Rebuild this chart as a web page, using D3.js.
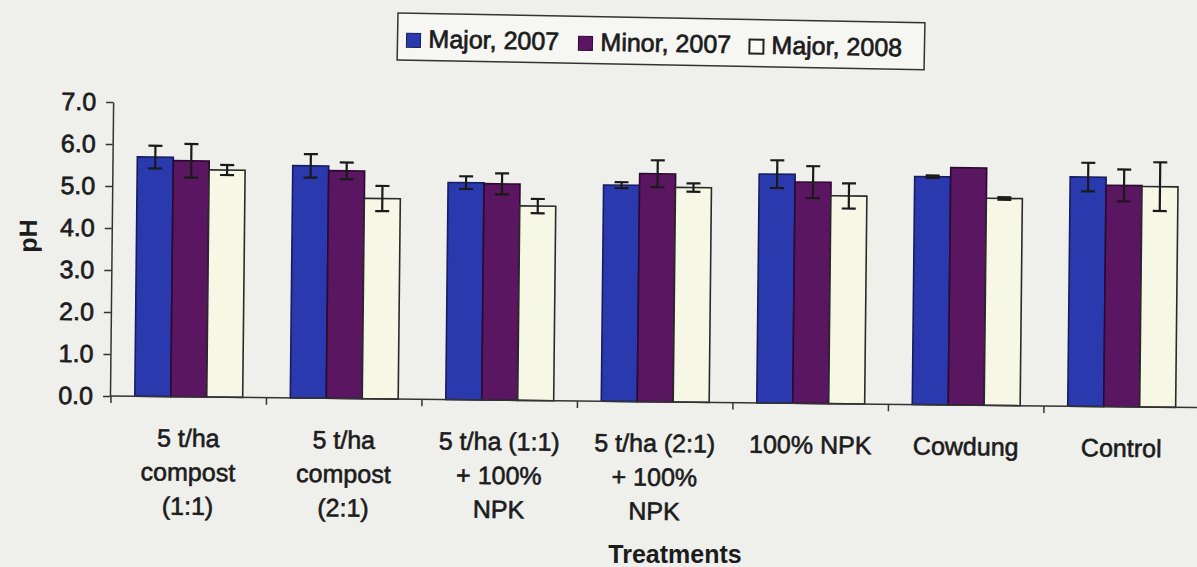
<!DOCTYPE html>
<html><head><meta charset="utf-8">
<script src="https://cdn.jsdelivr.net/npm/d3@7"></script>
<style>
html,body{margin:0;padding:0;background:#efefec;}
svg{display:block;}
text{font-family:"Liberation Sans",Arial,Helvetica,sans-serif;}
</style></head><body>
<svg id="c" width="1197" height="567"></svg>
<script>
const categories = ["5 t/ha\ncompost\n(1:1)", "5 t/ha\ncompost\n(2:1)", "5 t/ha (1:1)\n+ 100%\nNPK", "5 t/ha (2:1)\n+ 100%\nNPK", "100% NPK", "Cowdung", "Control"];
const seriesNames = ["Major, 2007", "Minor, 2007", "Major, 2008"];
const major2007 = [5.70, 5.53, 5.17, 5.15, 5.45, 5.43, 5.46];
const major2007Err = [0.27, 0.28, 0.15, 0.07, 0.33, 0.03, 0.34];
const minor2007 = [5.62, 5.42, 5.15, 5.43, 5.27, 5.65, 5.27];
const minor2007Err = [0.40, 0.20, 0.25, 0.32, 0.38, 0.00, 0.38];
const major2008 = [5.41, 4.77, 4.63, 5.11, 4.95, 4.93, 5.25];
const major2008Err = [0.12, 0.30, 0.17, 0.10, 0.30, 0.03, 0.58];
const yTicks = [0, 1, 2, 3, 4, 5, 6, 7];
const colors = ["#2a3aae", "#5a1660", "#f7f7e6"];
const strokes = ["#161c5e", "#2c0a30", "#2a2a2a"];

const values = [major2007, minor2007, major2008];
const errs = [major2007Err, minor2007Err, major2008Err];

const svg = d3.select("#c");
const g = svg.append("g").attr("transform", "rotate(0.61,110,396)");

const y = d3.scaleLinear().domain([0, 7]).range([396, 102]);
const x = d3.scaleBand().domain(categories).range([111, 1199.5]).padding(0);
const xs = d3.scaleBand().domain(seriesNames).range([23.8, x.bandwidth() - 23.8]).padding(0);

// bars
seriesNames.forEach((s, si) => {
  g.append("g").selectAll("rect").data(categories).join("rect")
    .attr("x", c => x(c) + xs(s))
    .attr("y", (c, i) => y(values[si][i]))
    .attr("width", xs.bandwidth())
    .attr("height", (c, i) => y(0) - y(values[si][i]))
    .attr("fill", colors[si])
    .attr("stroke", strokes[si])
    .attr("stroke-width", 1.6);
});
// error bars
seriesNames.forEach((s, si) => {
  const eg = g.append("g").attr("stroke", "#1a1a1a").attr("stroke-width", 2.2);
  categories.forEach((c, i) => {
    const e = errs[si][i];
    if (e <= 0) return;
    const cx = x(c) + xs(s) + xs.bandwidth() / 2;
    const v = values[si][i];
    eg.append("line").attr("x1", cx).attr("x2", cx).attr("y1", y(v + e)).attr("y2", y(v - e));
    eg.append("line").attr("x1", cx - 7).attr("x2", cx + 7).attr("y1", y(v + e)).attr("y2", y(v + e));
    eg.append("line").attr("x1", cx - 7).attr("x2", cx + 7).attr("y1", y(v - e)).attr("y2", y(v - e));
  });
});

// y axis
const ya = g.append("g").attr("transform", "translate(110,0)")
  .call(d3.axisLeft(y).tickValues(yTicks).tickFormat(d3.format(".1f")).tickSize(7).tickSizeOuter(0).tickPadding(10));
ya.select(".domain").attr("stroke", "#333").attr("stroke-width", 1.5);
ya.selectAll(".tick line").attr("stroke", "#333").attr("stroke-width", 1.5);
ya.selectAll(".tick text").attr("font-size", 25).attr("fill", "#1c1c1c")
  .attr("stroke", "#1c1c1c").attr("stroke-width", 0.7).attr("font-family", "Liberation Sans, Arial, sans-serif");

// x axis line and boundary ticks
g.append("line").attr("x1", 110).attr("x2", 1197).attr("y1", y(0)).attr("y2", y(0))
  .attr("stroke", "#333").attr("stroke-width", 1.5);
g.append("g").selectAll("line").data(categories).join("line")
  .attr("x1", c => x(c)).attr("x2", c => x(c))
  .attr("y1", y(0)).attr("y2", y(0) + 7)
  .attr("stroke", "#333").attr("stroke-width", 1.5);

// x labels
const lab = g.append("g").selectAll("text").data(categories).join("text")
  .attr("text-anchor", "middle").attr("font-size", 25).attr("fill", "#1c1c1c")
  .attr("stroke", "#1c1c1c").attr("stroke-width", 0.6);
lab.each(function (c) {
  const t = d3.select(this);
  c.split("\n").forEach((line, li) => {
    t.append("tspan").attr("x", x(c) + x.bandwidth() / 2).attr("y", 446 + li * 34).text(line);
  });
});

// axis titles
g.append("text").attr("transform", "translate(35,237) rotate(-90)")
  .attr("text-anchor", "middle").attr("font-size", 25).attr("font-weight", "bold")
  .attr("fill", "#1c1c1c").text("pH");
svg.append("text").attr("x", 675).attr("y", 563)
  .attr("text-anchor", "middle").attr("font-size", 25).attr("font-weight", "bold")
  .attr("fill", "#1c1c1c").text("Treatments");

// legend
const lg = svg.append("g").attr("transform", "translate(398,13) rotate(1.05)");
lg.append("rect").attr("x", 0).attr("y", 0).attr("width", 527).attr("height", 47)
  .attr("fill", "#f6f6f3").attr("stroke", "#333").attr("stroke-width", 1.5);
const offs = [9, 181, 352];
seriesNames.forEach((s, si) => {
  lg.append("rect").attr("x", offs[si]).attr("y", 20).attr("width", 14).attr("height", 14)
    .attr("fill", si === 2 ? "#fbfbf6" : colors[si])
    .attr("stroke", si === 2 ? "#222" : strokes[si]).attr("stroke-width", si === 2 ? 2 : 1);
  lg.append("text").attr("x", offs[si] + 22).attr("y", 34).attr("font-size", 25)
    .attr("fill", "#1c1c1c").attr("stroke", "#1c1c1c").attr("stroke-width", 0.7).text(s);
});
</script>
</body></html>
